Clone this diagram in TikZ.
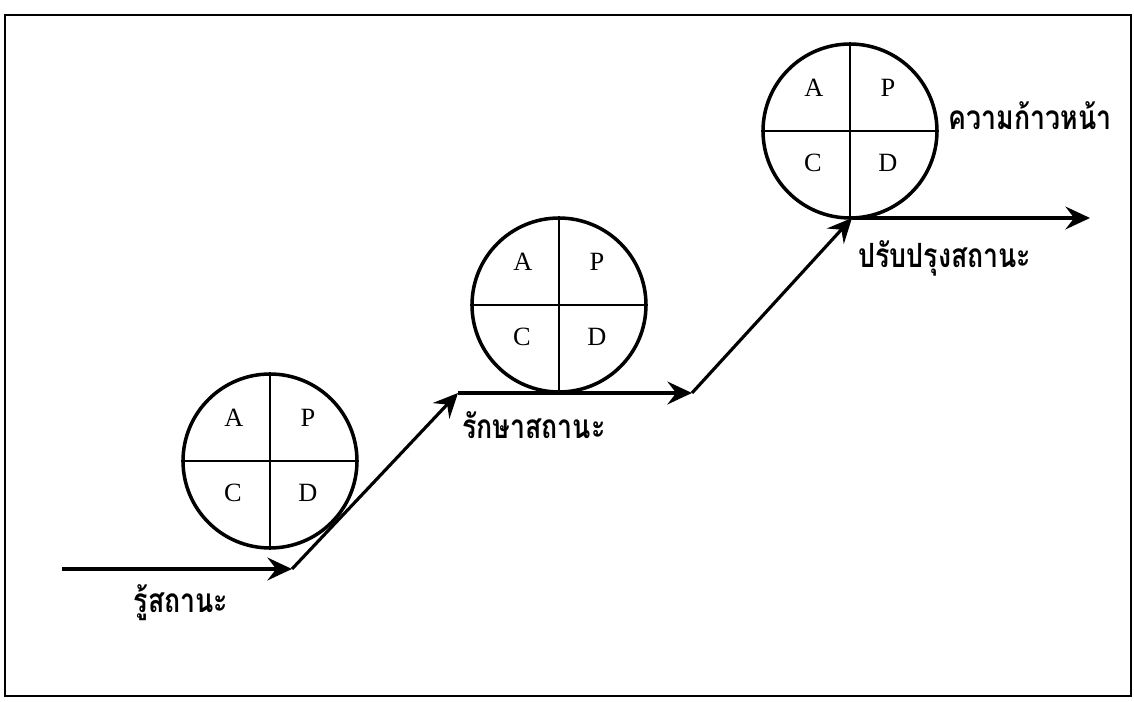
\documentclass[tikz,border=0pt]{standalone}
\usepackage{fontspec}
\setmainfont{Liberation Serif}
\newfontfamily\thaifont[Script=Thai]{Loma}
\usetikzlibrary{arrows.meta,calc}

\tikzset{
  pdca/.style={circle,draw,line width=2pt,minimum size=3.48cm,inner sep=0pt},
  quad/.style={line width=1.2pt},
  step arrow/.style={line width=1.8pt,-{Stealth[length=14pt,width=13pt,inset=5pt]}},
  letter/.style={font=\fontsize{15}{15}\selectfont},
  thailabel/.style={font=\thaifont\bfseries\fontsize{19}{19}\selectfont,xscale=0.8}
}

\begin{document}
\begin{tikzpicture}[x=0.02cm,y=-0.02cm]

\useasboundingbox (0,0) rectangle (1134,702);

% Frame
\draw[line width=1.7pt] (5,15) rectangle (1131,696);

% PDCA circles
\foreach \n/\cx/\cy in {c1/270/461, c2/559/305, c3/850/131}{
  \node[pdca] (\n) at (\cx,\cy) {};
  \draw[quad] (\n.north) -- (\n.south);
  \draw[quad] (\n.west) -- (\n.east);
  \node[letter] (\n A) at ($(\n)+(-36,-43)$) {A};
  \node[letter] (\n P) at ($(\n)+(38,-43)$) {P};
  \node[letter] (\n C) at ($(\n)+(-37,32)$) {C};
  \node[letter] (\n D) at ($(\n)+(38,32)$) {D};
}

% Steps
\coordinate (s0) at (62,569);
\coordinate (s1) at (292,569);
\coordinate (s2) at (458,393);
\coordinate (s3) at (692,393);
\coordinate (s4) at (852,218);
\coordinate (s5) at (1090,218);

\draw[step arrow] (s0) -- (s1);
\draw[step arrow] (s1) -- (s2);
\draw[step arrow] (s2) -- (s3);
\draw[step arrow] (s3) -- (s4);
\draw[step arrow] (s4) -- (s5);

% Labels
\node[thailabel] (know) at (181,603) {รู้สถานะ};
\node[thailabel] (keep) at (534,425) {รักษาสถานะ};
\node[thailabel] (improve) at (945,258) {ปรับปรุงสถานะ};
\node[thailabel] (progress) at (1030,116) {ความก้าวหน้า};

\end{tikzpicture}
\end{document}
